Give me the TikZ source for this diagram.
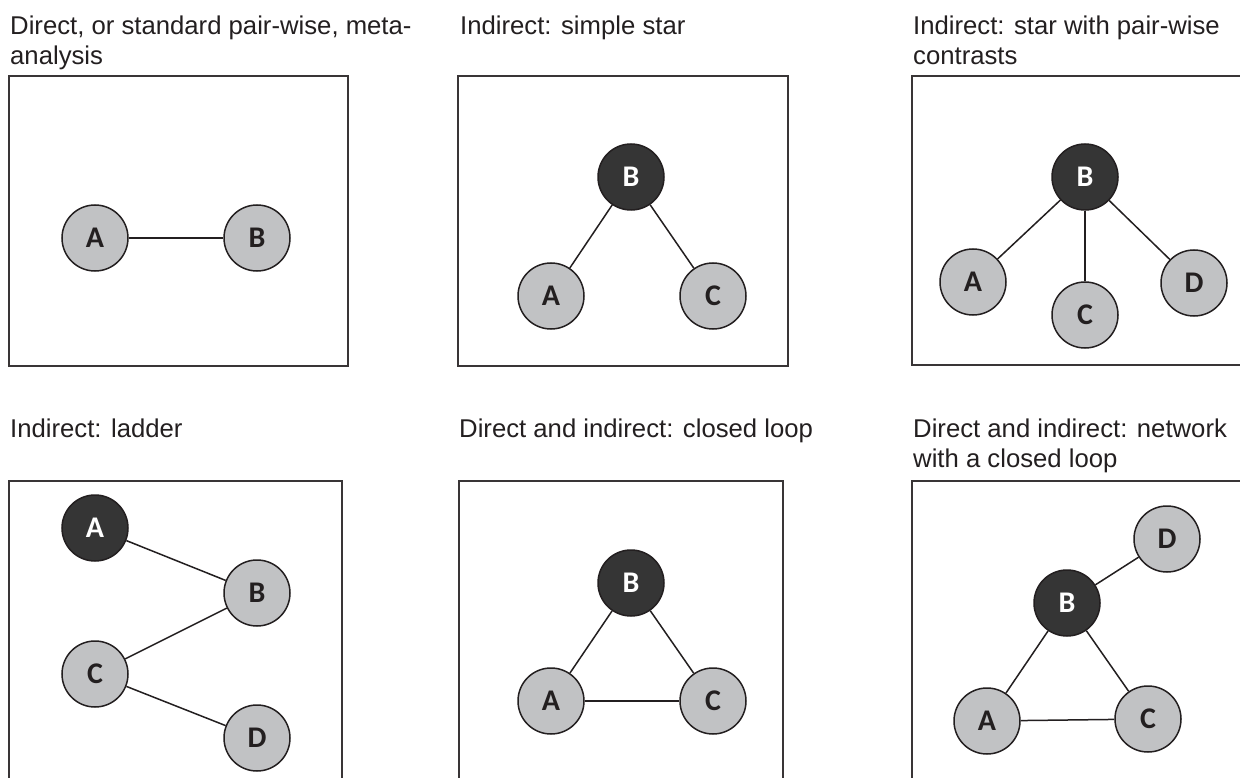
\documentclass[tikz,border=0pt]{standalone}
\usepackage{fontspec}
\setmainfont{Liberation Sans}
\newfontfamily\lblfont{Carlito}
\definecolor{ink}{HTML}{231F20}
\definecolor{lightnode}{HTML}{C1C2C4}
\definecolor{darknode}{HTML}{353535}
\tikzset{
  title/.style={anchor=base west, inner sep=0pt, text=ink, font=\fontsize{25.7}{30}\selectfont},
  frame/.style={draw=ink!90, line width=1.8pt},
  lnode/.style={circle, draw=ink, line width=1.5pt, fill=lightnode, minimum size=66pt, inner sep=0pt, text=ink, font=\lblfont\bfseries\fontsize{30}{30}\selectfont},
  dnode/.style={lnode, fill=darknode, text=white},
  edge/.style={draw=ink, line width=1.5pt},
  thickedge/.style={draw=ink, line width=2.4pt}
}
\begin{document}
\begin{tikzpicture}[x=1pt,y=-1pt]
\useasboundingbox (0,0) rectangle (1240,778);
\clip (0,0) rectangle (1240,778);
\fill[white] (0,0) rectangle (1240,778);
% titles
\node[title] (t1a) at (10,35) {Direct, or standard pair-wise, meta-};
\node[title] (t1b) at (10,65) {analysis};
\node[title] (t2) at (460,35) {Indirect: simple star};
\node[title] (t3a) at (913,35) {Indirect: star with pair-wise};
\node[title] (t3b) at (913,65) {contrasts};
\node[title] (t4) at (10,437) {Indirect: ladder};
\node[title] (t5) at (459,437) {Direct and indirect: closed loop};
\node[title] (t6a) at (913,437) {Direct and indirect: network};
\node[title] (t6b) at (913,467) {with a closed loop};
% frames
\draw[frame] (9,76) rectangle (348,366);
\draw[frame] (458,76) rectangle (788,366);
\draw[frame] (912,76) rectangle (1260,365);
\draw[frame] (9,481) rectangle (342,800);
\draw[frame] (459,481) rectangle (783,800);
\draw[frame] (912,481) rectangle (1260,800);
% panel 1
\node[lnode] (p1a) at (95,238) {A};
\node[lnode] (p1b) at (257,238) {B};
\draw[thickedge] (p1a) -- (p1b);
% panel 2
\node[dnode] (p2b) at (631,177) {B};
\node[lnode] (p2a) at (551,296) {A};
\node[lnode] (p2c) at (713,296) {C};
\draw[edge] (p2b) -- (p2a);
\draw[edge] (p2b) -- (p2c);
% panel 3
\node[dnode] (p3b) at (1085,177) {B};
\node[lnode] (p3a) at (973,282) {A};
\node[lnode] (p3c) at (1085,315) {C};
\node[lnode] (p3d) at (1194,283) {D};
\draw[edge] (p3b) -- (p3a);
\draw[edge] (p3b) -- (p3c);
\draw[edge] (p3b) -- (p3d);
% panel 4
\node[dnode] (p4a) at (95,528) {A};
\node[lnode] (p4b) at (257,593) {B};
\node[lnode] (p4c) at (95,674) {C};
\node[lnode] (p4d) at (257,738) {D};
\draw[edge] (p4a) -- (p4b);
\draw[edge] (p4b) -- (p4c);
\draw[edge] (p4c) -- (p4d);
% panel 5
\node[dnode] (p5b) at (631,583) {B};
\node[lnode] (p5a) at (551,701) {A};
\node[lnode] (p5c) at (713,701) {C};
\draw[edge] (p5b) -- (p5a);
\draw[edge] (p5b) -- (p5c);
\draw[edge] (p5a) -- (p5c);
% panel 6
\node[lnode] (p6d) at (1167,539) {D};
\node[dnode] (p6b) at (1067,603) {B};
\node[lnode] (p6a) at (987,721) {A};
\node[lnode] (p6c) at (1148,719) {C};
\draw[edge] (p6b) -- (p6d);
\draw[edge] (p6b) -- (p6a);
\draw[edge] (p6b) -- (p6c);
\draw[edge] (p6a) -- (p6c);
\end{tikzpicture}
\end{document}
